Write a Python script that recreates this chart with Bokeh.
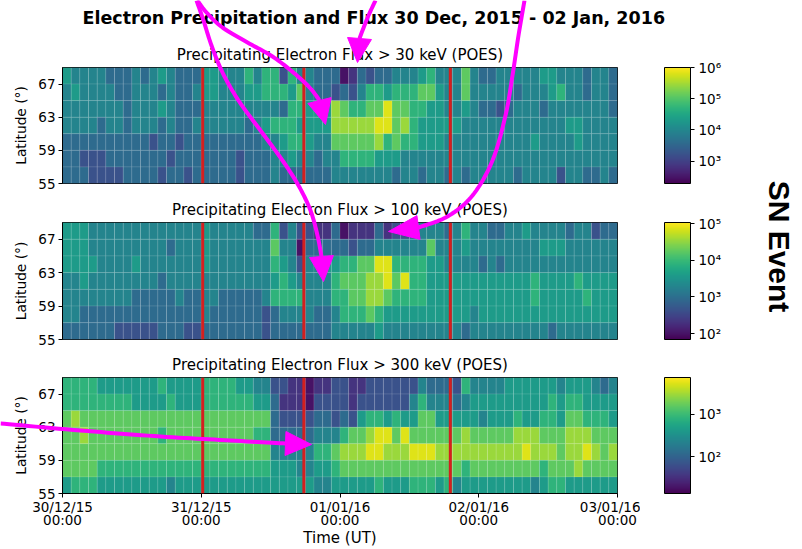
import numpy as np
import pandas as pd
from bokeh.plotting import figure
from bokeh.layouts import column, row
from bokeh.models import (Range1d, LogColorMapper, ColorBar, FixedTicker, Span, Title,
                          DatetimeTickFormatter, DatetimeAxis, ColumnDataSource)
from bokeh.palettes import Viridis256
from bokeh.embed import file_html
from bokeh.resources import INLINE

# ---------------------------------------------------------------- data
START = "2015-12-30 00:00"
END = "2016-01-03 00:00"
BIN_HOURS = 1.5                       # width of one time bin
LAT_BAND_CENTRES = [68, 66, 64, 62, 60, 58, 56]   # 2-degree bands, top row first
LAT_TICKS = [55, 59, 63, 67]
DAY_TICKS = ["2015-12-30", "2015-12-31", "2016-01-01", "2016-01-02", "2016-01-03"]
EVENT_TIMES = ["2015-12-31 00:15", "2015-12-31 17:45", "2016-01-01 19:05"]

SUPTITLE = "Electron Precipitation and Flux 30 Dec, 2015 - 02 Jan, 2016"
PANEL_TITLES = ["Precipitating Electron Flux > 30 keV (POES)",
                "Precipitating Electron Flux > 100 keV (POES)",
                "Precipitating Electron Flux > 300 keV (POES)"]
SIDE_LABEL = "SN Event"

# colour-scale limits (log10 flux) and colour-bar ticks for each channel
CBAR_LOG_LIMITS = [(2.28, 6.005), (1.84, 5.03), (1.15, 3.85)]
CBAR_TICKS = [[1e3, 1e4, 1e5, 1e6], [1e2, 1e3, 1e4, 1e5], [1e2, 1e3]]
SUPERSCRIPT = {1e2: "10²", 1e3: "10³", 1e4: "10⁴", 1e5: "10⁵", 1e6: "10⁶"}

# Flux level of every 1.5 h bin on a 0-9 scale across each channel's colour range
# (0 = bottom of the colour bar, 9 = top); one string per latitude band, 67-69 deg first.
FLUX_30 = [
    "5444433343454333 5544464662644333 0132334445644474 3344444554443443",
    "4544443344434334 5544455666574332 3246656667754474 4444344456443443",
    "4444444344454333 4444444443665558 7667797766554454 3323444344444443",
    "4444344344434334 4444434566655558 8888997865555544 4444444444554444",
    "3333333333233233 3333333445665447 7777867665554444 4444445444454444",
    "3322233333332333 3333233344544344 6666555444444444 4444444444444444",
    "3332222333323323 3333233343333334 4444443443443434 4444344442443343",
]
FLUX_100 = [
    "5554444444444444 5444443362422113 0111312234443464 4334454444344233",
    "5554444444443444 5444444474403333 3233444444744454 4444444555444444",
    "5555444454444444 5444444465424455 6677996666554444 3434444444444444",
    "4454444444434444 4444444456544446 7778897966555555 5555556555565555",
    "4444444433333433 4433333466664446 6778876666555555 5555556555556555",
    "4433333333333333 4333333234444334 6667655555555554 5555555555555555",
    "3333332222233322 3333333233333334 4444544444444434 4444444434444444",
]
FLUX_300 = [
    "6666555555565555 6666554422110112 2112222224333264 4445555554555434",
    "6666666655556555 6666665531110222 2122222246444345 5555555565665555",
    "7877777777777777 7777777732222332 3256656557755555 4555655665776665",
    "7787777777767777 7777776633333444 6778997977777787 7777888777888777",
    "7777777777777777 7777777744444667 8889988899988888 8888898887889878",
    "7777666666666666 6666666655544556 7777777777777767 7777777677787777",
    "5666555555554555 5555555555555445 5555655566656455 5555554566555555",
]
CHANNELS = [FLUX_30, FLUX_100, FLUX_300]

# ---------------------------------------------------------------- page geometry (pixels)
PAGE_W, PAGE_H = 802, 549
HEAT_W = 640
FRAME_LEFT, FRAME_W = 62, 555
CBAR_LEFT_GAP = 22                    # from the heat-map figure edge to the colour bar
FIG_HEIGHTS = [191, 156, 202]
BORDER_TOP = [67, 31, 30]
BORDER_BOTTOM = [8, 8, 55]
LAT_MIN, LAT_MAX = 55, 69

# hand-drawn callout arrows, page-pixel waypoints ending at the arrow tip
CALLOUTS = [
    ([(524, 0), (518, 35), (512, 75), (505, 115), (492, 160), (472, 195), (447, 216), (418, 227)], (388, 231)),
    ([(197, 0), (206, 12), (222, 27), (247, 42), (272, 56), (294, 73), (310, 88), (319, 100)], (325, 124)),
    ([(196, 0), (203, 20), (211, 45), (222, 72), (238, 100), (260, 130), (282, 160), (298, 185),
      (310, 210), (317, 235), (321, 256)], (323, 281)),
    ([(375, 0), (368, 15), (362, 30), (359, 38)], (357, 62)),
    ([(0, 423), (80, 430), (160, 436), (230, 440), (285, 443)], (311, 444)),
]
SUPTITLE_POS = (82, 17)
SIDE_LABEL_POS = (779, 246)

FONT = "DejaVu Sans"
DARK = "black"
TICK_FONT = "13.5px"


def to_ms(s):
    return pd.Timestamp(s).value / 1e6


X0, X1 = to_ms(START), to_ms(END)
BIN_MS = BIN_HOURS * 3600e3
RESOLUTIONS = ["microseconds", "milliseconds", "seconds", "minsec", "minutes",
               "hourmin", "hours", "days", "months", "years"]


def catmull(points, n=12):
    pts = np.asarray(points, float)
    P = np.vstack([pts[0], pts, pts[-1]])
    out = []
    for k in range(1, len(P) - 2):
        p0, p1, p2, p3 = P[k - 1], P[k], P[k + 1], P[k + 2]
        for t in np.linspace(0, 1, n, endpoint=False):
            out.append(0.5 * (2 * p1 + (-p0 + p2) * t + (2 * p0 - 5 * p1 + 4 * p2 - p3) * t * t
                              + (-p0 + 3 * p1 - 3 * p2 + p3) * t ** 3))
    out.append(pts[-1])
    return np.array(out)


def style_axis(ax):
    ax.axis_label_text_font = FONT
    ax.axis_label_text_font_style = "normal"
    ax.axis_label_text_color = DARK
    ax.major_label_text_font = FONT
    ax.major_label_text_color = DARK
    ax.major_label_text_font_size = TICK_FONT
    ax.major_tick_out = 4
    ax.major_tick_in = 0
    ax.minor_tick_line_color = None
    ax.major_tick_line_color = DARK
    ax.axis_line_color = DARK


def make_panel(i):
    last = i == len(CHANNELS) - 1
    p = figure(width=HEAT_W, height=FIG_HEIGHTS[i], x_axis_type="datetime",
               x_range=Range1d(X0, X1), y_range=Range1d(LAT_MIN, LAT_MAX),
               x_axis_location="below" if last else None,
               output_backend="svg", toolbar_location=None, tools="",
               min_border_left=FRAME_LEFT, min_border_right=HEAT_W - FRAME_LEFT - FRAME_W,
               min_border_top=BORDER_TOP[i], min_border_bottom=BORDER_BOTTOM[i],
               background_fill_color="white", border_fill_color="white")
    p.title.text = ""
    p.outline_line_color = DARK
    p.outline_line_width = 1
    p.xgrid.visible = False
    p.ygrid.visible = False

    lo, hi = CBAR_LOG_LIMITS[i]
    mapper = LogColorMapper(palette=Viridis256, low=10 ** lo, high=10 ** hi)

    xs, ys, flux = [], [], []
    for r, levels in enumerate(CHANNELS[i]):
        for c, ch in enumerate(levels.replace(" ", "")):
            xs.append(X0 + (c + 0.5) * BIN_MS)
            ys.append(LAT_BAND_CENTRES[r])
            flux.append(10 ** (lo + (int(ch) + 0.5) / 10 * (hi - lo)))
    src = ColumnDataSource(dict(x=xs, y=ys, flux=flux))
    p.rect(x="x", y="y", width=BIN_MS, height=2, source=src,
           fill_color={"field": "flux", "transform": mapper},
           line_color="white", line_alpha=0.15, line_width=0.7)

    for t in EVENT_TIMES:
        p.add_layout(Span(location=to_ms(t), dimension="height",
                          line_color="#d41f1f", line_width=3))

    p.yaxis.ticker = FixedTicker(ticks=LAT_TICKS)
    p.yaxis.axis_label = "Latitude (°)"
    for ax in p.axis:
        style_axis(ax)
    p.yaxis.major_label_standoff = 3
    p.yaxis.axis_label_text_font_size = "13.75px"
    p.yaxis.axis_label_standoff = 6

    if last:
        ticks = [to_ms(d) for d in DAY_TICKS]
        p.xaxis.ticker = FixedTicker(ticks=ticks)
        p.xaxis.formatter = DatetimeTickFormatter(**{k: "%d/%m/%y" for k in RESOLUTIONS})
        p.xaxis.major_label_standoff = 1
        # second row of tick labels (time of day) plus the axis title
        time_axis = DatetimeAxis(ticker=FixedTicker(ticks=ticks),
                                 formatter=DatetimeTickFormatter(**{k: "%H:%M" for k in RESOLUTIONS}),
                                 axis_label="Time (UT)")
        style_axis(time_axis)
        time_axis.major_tick_out = 0
        time_axis.major_tick_line_color = None
        time_axis.axis_line_color = None
        time_axis.major_label_standoff = -6
        time_axis.axis_label_text_font_size = "15px"
        time_axis.axis_label_standoff = -2
        p.add_layout(time_axis, "below")

    p.add_layout(Title(text=PANEL_TITLES[i], text_font=FONT, text_font_size="15px",
                       text_font_style="normal", text_color=DARK, align="center",
                       standoff=7), "above")

    # colour bar lives in a narrow companion figure so it can sit apart from the map
    cw = PAGE_W - HEAT_W
    cbf = figure(width=cw, height=FIG_HEIGHTS[i], x_axis_location=None, y_axis_location=None,
                 output_backend="svg", toolbar_location=None, tools="",
                 min_border_left=CBAR_LEFT_GAP, min_border_right=cw - CBAR_LEFT_GAP - 2,
                 min_border_top=BORDER_TOP[i], min_border_bottom=BORDER_BOTTOM[i],
                 background_fill_color="white", border_fill_color="white")
    cbf.outline_line_color = None
    cbf.grid.visible = False
    cb = ColorBar(color_mapper=mapper, ticker=FixedTicker(ticks=CBAR_TICKS[i]),
                  major_label_overrides={k: SUPERSCRIPT[k] for k in CBAR_TICKS[i]},
                  width=26, padding=0, margin=0, bar_line_color=DARK, bar_line_width=1,
                  major_tick_out=4, major_tick_in=0, major_tick_line_color=DARK,
                  minor_tick_line_color=None, label_standoff=4,
                  major_label_text_font=FONT, major_label_text_font_size=TICK_FONT,
                  major_label_text_color=DARK,
                  background_fill_alpha=0, border_line_color=None)
    cbf.add_layout(cb, "right")
    return row(p, cbf, spacing=0)


def make_overlay():
    # transparent sheet over the whole page: figure title, callout arrows and side label
    ov = figure(width=PAGE_W, height=PAGE_H, x_range=Range1d(0, PAGE_W), y_range=Range1d(PAGE_H, 0),
                x_axis_location=None, y_axis_location=None, output_backend="svg",
                toolbar_location=None, tools="", min_border=0,
                background_fill_color=None, border_fill_color=None,
                styles={"position": "absolute", "top": "0px", "left": "0px",
                        "z-index": "10", "pointer-events": "none"})
    ov.outline_line_color = None
    ov.grid.visible = False
    ov.text(x=[SUPTITLE_POS[0]], y=[SUPTITLE_POS[1]], text=[SUPTITLE],
            text_align="left", text_baseline="middle", text_font={"value": FONT},
            text_font_style="bold", text_font_size="17.5px", text_color=DARK)
    for path, tip in CALLOUTS:
        curve = catmull(path)
        ov.line(curve[:, 0], curve[:, 1], line_color="#ff00ff", line_width=4, line_join="round")
        base = np.array(path[-1], float)
        tipv = np.array(tip, float)
        d = (tipv - base) / np.hypot(*(tipv - base))
        nrm = np.array([-d[1], d[0]])
        tri = np.array([base + nrm * 12, tipv, base - nrm * 12])
        ov.patch(tri[:, 0], tri[:, 1], fill_color="#ff00ff", line_color="#ff00ff", line_width=1)
    ov.text(x=[SIDE_LABEL_POS[0]], y=[SIDE_LABEL_POS[1]], text=[SIDE_LABEL], angle=-np.pi / 2,
            text_align="center", text_baseline="middle", text_font={"value": "Liberation Sans"},
            text_font_style="bold", text_font_size="30px", text_color=DARK)
    return ov


rows = [make_panel(i) for i in range(len(CHANNELS))]
layout = column(*rows, make_overlay(), spacing=0)

open("out.html", "w").write(file_html(layout, INLINE))
